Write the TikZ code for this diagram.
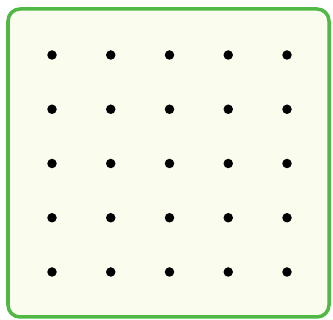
\documentclass[tikz,border=0pt]{standalone}
\begin{document}
\begin{tikzpicture}[x=1pt,y=-1pt,
  board/.style={draw={rgb,255:red,80;green,185;blue,70},line width=3.5pt,fill={rgb,255:red,250;green,253;blue,238},rounded corners=12pt},
  peg/.style={circle,fill=black,inner sep=0pt,minimum size=9.5pt}]
\useasboundingbox (0,0) rectangle (333,320);
\fill[white] (0,0) rectangle (333,320);
\draw[board] (8,9) rectangle (329,317);
\foreach \i in {0,...,4}{
  \foreach \j in {0,...,4}{
    \node[peg] (p\i\j) at ({52+58.75*\i},{55+54.25*\j}) {};
  }
}
\end{tikzpicture}
\end{document}
